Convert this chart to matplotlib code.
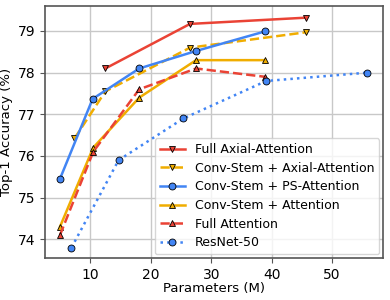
import numpy as np
import matplotlib.pyplot as plt

# parameters (M) and top-1 accuracy (%)
full_axial_x = [12.5, 26.5, 45.7]
full_axial_y = [78.1, 79.17, 79.32]

cs_axial_x = [7.4, 12.5, 26.5, 45.7]
cs_axial_y = [76.42, 77.55, 78.6, 78.97]

cs_ps_x = [5.0, 10.4, 18.1, 27.5, 38.9]
cs_ps_y = [75.45, 77.37, 78.1, 78.52, 78.99]

cs_attn_x = [5.0, 10.5, 18.1, 27.5, 38.9]
cs_attn_y = [74.3, 76.2, 77.4, 78.3, 78.3]

full_attn_x = [5.0, 10.5, 18.1, 27.5, 38.9]
full_attn_y = [74.1, 76.1, 77.6, 78.1, 77.9]

resnet_x = [6.9, 14.7, 25.4, 39.1, 55.8]
resnet_y = [73.8, 75.9, 76.9, 77.8, 78.0]

red = '#EA4335'
blue = '#4285F4'
orange = '#F0AD00'

fig, ax = plt.subplots(figsize=(3.9, 3.0), dpi=100)

ms = 5
ax.plot(full_axial_x, full_axial_y, '-', color=red, lw=1.8, marker='v', ms=ms,
        mec='k', mew=0.6, label='Full Axial-Attention')
ax.plot(cs_axial_x, cs_axial_y, '--', color=orange, lw=1.8, marker='v', ms=ms,
        mec='k', mew=0.6, label='Conv-Stem + Axial-Attention')
ax.plot(cs_ps_x, cs_ps_y, '-', color=blue, lw=1.8, marker='o', ms=ms,
        mec='k', mew=0.6, label='Conv-Stem + PS-Attention')
ax.plot(cs_attn_x, cs_attn_y, '-', color=orange, lw=1.8, marker='^', ms=ms,
        mec='k', mew=0.6, label='Conv-Stem + Attention')
ax.plot(full_attn_x, full_attn_y, '--', color=red, lw=1.8, marker='^', ms=ms,
        mec='k', mew=0.6, label='Full Attention')
ax.plot(resnet_x, resnet_y, ':', color=blue, lw=1.8, marker='o', ms=ms,
        mec='k', mew=0.6, label='ResNet-50')

ax.set_xlim(2.5, 58.4)
ax.set_ylim(73.55, 79.6)
ax.set_xticks([10, 20, 30, 40, 50])
ax.set_yticks([74, 75, 76, 77, 78, 79])
ax.grid(True, color='#c8c8c8', lw=1)
ax.set_axisbelow(True)
for s in ax.spines.values():
    s.set_color('#555555')
    s.set_linewidth(1.2)
ax.tick_params(labelsize=10, color='#555555')
ax.set_xlabel('Parameters (M)', fontsize=9.5, labelpad=0)
ax.set_ylabel('Top-1 Accuracy (%)', fontsize=9.5, labelpad=3)
ax.legend(loc='lower right', fontsize=9, handlelength=2, labelspacing=0.45,
          borderpad=0.4, handletextpad=0.8, borderaxespad=0.3)

fig.subplots_adjust(left=0.115, right=0.982, top=0.98, bottom=0.14)
fig.savefig('out.png', dpi=100)
